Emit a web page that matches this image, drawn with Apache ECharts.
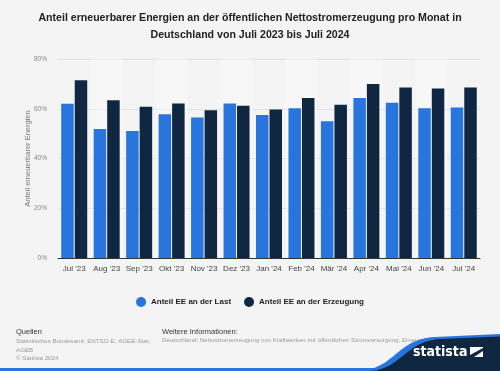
<!DOCTYPE html>
<html>
<head>
<meta charset="utf-8">
<script src="https://cdn.jsdelivr.net/npm/echarts@6/dist/echarts.min.js"></script>
<style>
html,body{margin:0;padding:0;background:#f4f4f4;}
#chart{width:500px;height:371px;}
</style>
</head>
<body>
<div id="chart"></div>
<script>
const categories = ["Jul '23","Aug '23","Sep '23","Okt '23","Nov '23","Dez '23","Jan '24","Feb '24","Mär '24","Apr '24","Mai '24","Jun '24","Jul '24"];
const anteilLast = [62.0, 51.9, 51.1, 57.8, 56.5, 62.1, 57.5, 60.2, 55.0, 64.3, 62.4, 60.2, 60.5];
const anteilErzeugung = [71.5, 63.4, 60.8, 62.1, 59.4, 61.2, 59.7, 64.3, 61.6, 69.9, 68.5, 68.1, 68.5];
const seriesNames = ["Anteil EE an der Last", "Anteil EE an der Erzeugung"];
const yTicks = [0, 20, 40, 60, 80];

// decorative swoosh outline (cubic bezier sampled into polygon points)
function swoosh(x0, y0, c1x, c1y, c2x, c2y, x1, y1, yRight) {
  const pts = [];
  for (let i = 0; i <= 30; i++) {
    const t = i / 30, u = 1 - t;
    pts.push([u*u*u*x0 + 3*u*u*t*c1x + 3*u*t*t*c2x + t*t*t*x1,
              u*u*u*y0 + 3*u*u*t*c1y + 3*u*t*t*c2y + t*t*t*y1]);
  }
  pts.push([500, yRight]); pts.push([500, 371]);
  return pts;
}

const chart = echarts.init(document.getElementById('chart'), null, {renderer:'canvas'});
const font = 'Liberation Sans, Arial, Helvetica, sans-serif';
chart.setOption({
  backgroundColor: '#f4f4f4',
  animation: false,
  textStyle: {fontFamily: font},
  title: {
    text: 'Anteil erneuerbarer Energien an der öffentlichen Nettostromerzeugung pro Monat in\nDeutschland von Juli 2023 bis Juli 2024',
    left: 'center', top: 5,
    textStyle: {fontSize: 10.6, fontWeight: 'bold', color: '#222', lineHeight: 17, fontFamily: font, align: 'center'}
  },
  legend: {
    data: seriesNames,
    top: 292, left: 'center',
    icon: 'circle', itemWidth: 10, itemHeight: 10, itemGap: 13, itemNameGap: 5,
    textStyle: {fontSize: 8, fontWeight: 'bold', color: '#222', fontFamily: font}
  },
  grid: {left: 58, right: 20, top: 59, bottom: 113},
  xAxis: {
    type: 'category', data: categories,
    axisLine: {lineStyle: {color: '#333', width: 1}},
    axisTick: {show: false},
    axisLabel: {fontSize: 8, color: '#444', margin: 7, interval: 0, fontFamily: font},
    splitArea: {show: true, areaStyle: {color: ['rgba(255,255,255,0)', 'rgba(255,255,255,0.3)']}}
  },
  yAxis: {
    type: 'value', min: yTicks[0], max: yTicks[yTicks.length-1], interval: 20,
    name: 'Anteil erneuerbarer Energien', nameLocation: 'middle', nameGap: 26, nameRotate: 90,
    nameMoveOverlap: false,
    nameTextStyle: {fontSize: 7.5, color: '#777', fontFamily: font},
    axisLine: {show: false}, axisTick: {show: false},
    axisLabel: {fontSize: 6.5, color: '#888', margin: 11, formatter: '{value}%', fontFamily: font},
    splitLine: {lineStyle: {color: '#e2e2e2', width: 1}}
  },
  series: [
    {name: seriesNames[0], type: 'bar', data: anteilLast, barWidth: 12.5, barGap: '8%',
     itemStyle: {color: '#2876dd'}},
    {name: seriesNames[1], type: 'bar', data: anteilErzeugung, barWidth: 12.5, barGap: '8%',
     itemStyle: {color: '#0f2741'}}
  ],
  graphic: [
    {type: 'text', left: 16, top: 328, style: {text: 'Quellen', fontSize: 7.5, fill: '#333', fontFamily: font}},
    {type: 'text', left: 16, top: 337.5, style: {text: 'Statistisches Bundesamt; ENTSO-E; AGEE-Stat;\nAGEB\n© Statista 2024', fontSize: 6.2, lineHeight: 8.2, fill: '#9a9a9a', fontFamily: font}},
    {type: 'text', left: 162, top: 328, style: {text: 'Weitere Informationen:', fontSize: 7.5, fill: '#333', fontFamily: font}},
    {type: 'text', left: 162, top: 337.5, style: {text: 'Deutschland; Nettostromerzeugung von Kraftwerken zur öffentlichen Stromversorgung; Erneuerbare Energien', fontSize: 6.2, fill: '#9a9a9a', fontFamily: font}},
    {type: 'rect', shape: {x: 0, y: 368, width: 500, height: 3}, style: {fill: '#2876dd'}, z: 10},
    {type: 'polygon', shape: {points: swoosh(355, 371, 395, 371, 395, 339, 435, 337, 334)}, style: {fill: '#2876dd'}, z: 10},
    {type: 'polygon', shape: {points: swoosh(368, 371, 400, 371, 405, 341, 440, 339, 336.5)}, style: {fill: '#0f2741'}, z: 11},
    {type: 'text', left: 413, top: 345, style: {text: 'statista', fontSize: 14, fontWeight: 'bold', fill: '#ffffff', fontFamily: 'DejaVu Sans Condensed, Liberation Sans Narrow, Arial Narrow, sans-serif'}, z: 12},
    {type: 'rect', shape: {x: 470, y: 347, width: 13, height: 10}, style: {fill: '#ffffff'}, z: 12},
    {type: 'polygon', shape: {points: [[470,355],[483,348],[483,351],[474,357],[470,357]]}, style: {fill: '#0f2741'}, z: 13}
  ]
});
</script>
</body>
</html>
